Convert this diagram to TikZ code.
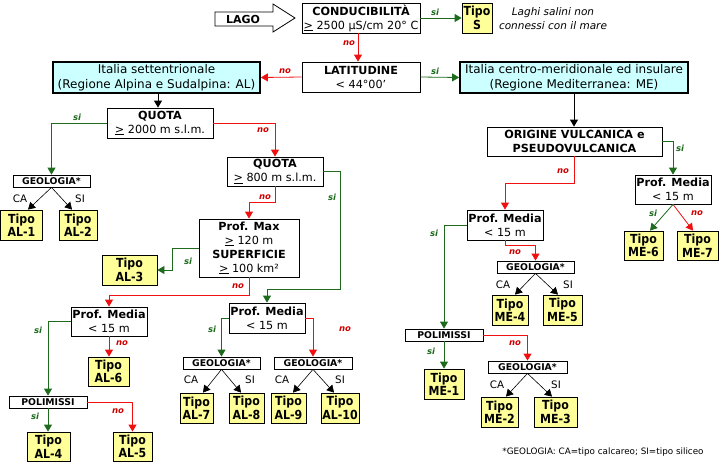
\documentclass[tikz,border=0pt]{standalone}
\usepackage{fontspec}
\setmainfont{DejaVu Sans}
\newfontfamily\tipofont{DejaVu Sans}[FakeStretch=0.88]
\usetikzlibrary{arrows.meta}
\definecolor{gr}{HTML}{1E6B1E}
\definecolor{rd}{HTML}{F01010}
\definecolor{rdl}{HTML}{D00000}
\definecolor{yl}{HTML}{FFFF99}
\definecolor{cy}{HTML}{CCFFFF}
\begin{document}
\begin{tikzpicture}[x=1pt,y=-1pt,
  wh/.style 2 args={minimum width=#1pt, minimum height=#2pt},
  box/.style={draw=black, line width=0.8pt, inner sep=0pt, align=center, font=\fontsize{11.2}{14}\selectfont},
  tipo/.style={box, fill=yl, font=\tipofont\fontsize{12.5}{13.5}\selectfont\bfseries},
  region/.style={box, fill=cy, line width=1.8pt, font=\fontsize{12}{15}\selectfont},
  small/.style={box, font=\fontsize{9.3}{10}\selectfont\bfseries},
  tip/.style={-{Triangle[width=8pt,length=7pt]}},
  yes/.style={tip, draw=gr, line width=0.8pt},
  nay/.style={tip, draw=rd, line width=0.8pt},
  blk/.style={tip, draw=black, line width=0.6pt},
  lsi/.style={text=gr, font=\fontsize{8.5}{9}\selectfont\bfseries\itshape, inner sep=0pt},
  lno/.style={text=rdl, font=\fontsize{8.5}{9}\selectfont\bfseries\itshape, inner sep=0pt},
  cal/.style={font=\fontsize{10.3}{10}\selectfont, inner sep=0pt}
]
\useasboundingbox (0,0) rectangle (720,474);

% LAGO block arrow
\draw[line width=0.8pt, fill=white] (215,12) -- (273,12) -- (273,4) -- (295,18) -- (273,32) -- (273,26) -- (215,26) -- cycle;
\node[font=\fontsize{11}{12}\selectfont\bfseries, inner sep=0pt] (lago) at (243,19) {LAGO};

% top row
\node[box, wh={118}{30}] (cond) at (361,18) {\textbf{CONDUCIBILITÀ}\\\underline{>} 2500 µS/cm 20° C};
\node[tipo, wh={30}{30}] (tipoS) at (477,18) {Tipo\\S};
\node[font=\fontsize{10.5}{14}\selectfont\itshape, align=center, inner sep=0pt] (salini) at (553,19) {Laghi salini non\\connessi con il mare};
\node[box, wh={118}{30}] (lat) at (361,77) {\textbf{LATITUDINE}\\< 44°00’};
\node[region, wh={207}{31}] (nord) at (156.5,77.5) {Italia settentrionale\\(Regione Alpina e Sudalpina: AL)};
\node[region, wh={228}{31}] (sud) at (574,77.5) {Italia centro-meridionale ed insulare\\(Regione Mediterranea: ME)};

% AL branch
\node[box, wh={106}{30}] (q2000) at (160,123) {\textbf{QUOTA}\\\underline{>} 2000 m s.l.m.};
\node[small, wh={77}{12}] (geoA) at (51.5,181) {GEOLOGIA*};
\node[tipo, wh={42}{30}] (al1) at (21.5,225) {Tipo\\AL-1};
\node[tipo, wh={38}{30}] (al2) at (78,225) {Tipo\\AL-2};
\node[box, wh={96}{29}] (q800) at (275,171.5) {\textbf{QUOTA}\\\underline{>} 800 m s.l.m.};
\node[box, wh={100}{58}] (pmax) at (249,248) {\textbf{Prof. Max}\\\underline{>} 120 m\\\textbf{SUPERFICIE}\\\underline{>} 100 km²};
\node[tipo, wh={55}{30}] (al3) at (129.5,270) {Tipo\\AL-3};
\node[box, wh={76}{29}] (pmA) at (109,321.5) {\textbf{Prof. Media}\\< 15 m};
\node[tipo, wh={41}{29}] (al6) at (108.5,371.5) {Tipo\\AL-6};
\node[small, wh={78}{12}] (poliA) at (48,402) {POLIMISSI};
\node[tipo, wh={43}{29}] (al4) at (48.5,446.5) {Tipo\\AL-4};
\node[tipo, wh={39}{29}] (al5) at (132.5,446.5) {Tipo\\AL-5};
\node[box, wh={76}{30}] (pmB) at (267,318) {\textbf{Prof. Media}\\< 15 m};
\node[small, wh={77}{12}] (geoB) at (221.5,363) {GEOLOGIA*};
\node[small, wh={78}{12}] (geoC) at (313,363) {GEOLOGIA*};
\node[tipo, wh={33}{30}] (al7) at (196.5,408) {Tipo\\AL-7};
\node[tipo, wh={35}{30}] (al8) at (246.5,408) {Tipo\\AL-8};
\node[tipo, wh={35}{30}] (al9) at (288.5,408) {Tipo\\AL-9};
\node[tipo, wh={38}{30}] (al10) at (340,408) {Tipo\\AL-10};

% ME branch
\node[box, wh={175}{29}, font=\fontsize{11.2}{14}\selectfont\bfseries] (orig) at (574.5,141.5) {ORIGINE VULCANICA e\\PSEUDOVULCANICA};
\node[box, wh={76}{29}] (pmR) at (673,189.5) {\textbf{Prof. Media}\\< 15 m};
\node[tipo, wh={39}{29}] (me6) at (643.5,245.5) {Tipo\\ME-6};
\node[tipo, wh={41}{29}] (me7) at (697.5,245.5) {Tipo\\ME-7};
\node[box, wh={76}{30}] (pmC) at (505,225) {\textbf{Prof. Media}\\< 15 m};
\node[small, wh={77}{12}] (geoD) at (535.5,267) {GEOLOGIA*};
\node[tipo, wh={36}{30}] (me4) at (510,310) {Tipo\\ME-4};
\node[tipo, wh={39}{30}] (me5) at (562.5,310) {Tipo\\ME-5};
\node[small, wh={78}{12}] (poliB) at (444,335) {POLIMISSI};
\node[tipo, wh={40}{30}] (me1) at (444,384) {Tipo\\ME-1};
\node[small, wh={79}{12}] (geoE) at (527.5,367) {GEOLOGIA*};
\node[tipo, wh={37}{30}] (me2) at (499.5,412) {Tipo\\ME-2};
\node[tipo, wh={43}{30}] (me3) at (555.5,412) {Tipo\\ME-3};

\node[font=\fontsize{8.8}{10}\selectfont, inner sep=0pt] (note) at (603,452) {*GEOLOGIA: CA=tipo calcareo; SI=tipo siliceo};

% connectors top
\draw[yes] (cond.east) -- (tipoS.west);
\node[lsi] (l1) at (435,12) {si};
\draw[nay] ([xshift=-3pt]cond.south) -- ([xshift=-3pt]lat.north);
\node[lno] (l2) at (349,43) {no};
\draw[nay] (lat.west) -- (nord.east);
\node[lno] (l3) at (285,71) {no};
\draw[yes] (lat.east) -- (sud.west);
\node[lsi] (l4) at (435,71) {si};
\draw[blk, line width=0.8pt] ([xshift=1.5pt]nord.south) -- ([xshift=-2pt]q2000.north);
\draw[blk, line width=0.8pt] (sud.south) -- (sud.south |- orig.north);

% AL connectors
\draw[yes] (q2000.west) -| (geoA.north);
\node[lsi] (l5) at (77,117) {si};
\draw[nay] (q2000.east) -| (q800.north);
\node[lno] (l6) at (263,130) {no};
\draw[blk] (geoA.south) -- ([xshift=6.5pt]al1.north);
\draw[blk] (geoA.south) -- ([xshift=-6pt]al2.north);
\node[cal] (c1) at (20,199) {CA};
\node[cal] (s1) at (80,199) {SI};
\draw[nay] (q800.south) -- ++(0,16) -| (pmax.north);
\node[lno] (l7) at (265,197) {no};
\draw[yes] (q800.east) -- ++(17,0) -- ++(0,117.5) -| (pmB.north);
\node[lsi] (l8) at (332,197) {si};
\draw[yes] (pmax.west) -- ++(-26,0) |- (al3.east);
\node[lsi] (l9) at (188,261) {si};
\draw[nay] (pmax.south) -- ++(0,18) -| (pmA.north);
\node[lno] (l10) at (238,286) {no};
\draw[yes] (pmA.west) -| (poliA.north);
\node[lsi] (l11) at (38,330) {si};
\draw[nay] (pmA.south) -- (pmA.south |- al6.north);
\node[lno] (l12) at (122,343) {no};
\draw[yes] (poliA.south) -- (poliA.south |- al4.north);
\node[lsi] (l13) at (35,416) {si};
\draw[nay] (poliA.east) -| (al5.north);
\node[lno] (l14) at (118,411) {no};
\draw[yes] (pmB.west) -| (geoB.north);
\node[lsi] (l15) at (212,329) {si};
\draw[nay] (pmB.east) -| (geoC.north);
\node[lno] (l16) at (345,329) {no};
\draw[blk] (geoB.south) -- ([xshift=6.5pt]al7.north);
\draw[blk] (geoB.south) -- ([xshift=-5.5pt]al8.north);
\draw[blk] (geoC.south) -- ([xshift=4.5pt]al9.north);
\draw[blk] (geoC.south) -- ([xshift=-6pt]al10.north);
\node[cal] (c2) at (191,380) {CA};
\node[cal] (s2) at (250,380) {SI};
\node[cal] (c3) at (282,380) {CA};
\node[cal] (s3) at (340,380) {SI};

% ME connectors
\draw[yes] (orig.east) -| (pmR.north);
\node[lsi] (l17) at (680,148) {si};
\draw[nay] (orig.south) -- ++(0,27) -| (pmC.north);
\node[lno] (l18) at (563,171) {no};
\draw[yes] (pmR.south) -- ([xshift=6.5pt]me6.north);
\draw[nay] (pmR.south) -- ([xshift=-4.5pt]me7.north);
\node[lsi] (l19) at (653,213) {si};
\node[lno] (l20) at (697,213) {no};
\draw[yes] (pmC.west) -| (poliB.north);
\node[lsi] (l21) at (434,233) {si};
\draw[nay] (pmC.south) -- ++(0,5) -| (geoD.north);
\node[lno] (l22) at (515,252) {no};
\draw[blk] (geoD.south) -- ([xshift=5pt]me4.north);
\draw[blk] (geoD.south) -- ([xshift=-4.5pt]me5.north);
\node[cal] (c4) at (503,285) {CA};
\node[cal] (s4) at (568,285) {SI};
\draw[yes] (poliB.south) -- (poliB.south |- me1.north);
\node[lsi] (l23) at (431,351) {si};
\draw[nay] (poliB.east) -| (geoE.north);
\node[lno] (l24) at (515,343) {no};
\draw[blk] (geoE.south) -- ([xshift=6.5pt]me2.north);
\draw[blk] (geoE.south) -- ([xshift=-3.5pt]me3.north);
\node[cal] (c5) at (497,385) {CA};
\node[cal] (s5) at (556,385) {SI};
\end{tikzpicture}
\end{document}
